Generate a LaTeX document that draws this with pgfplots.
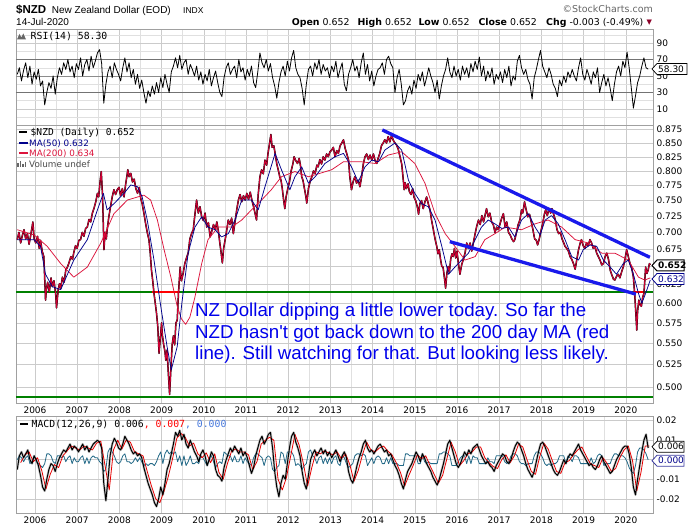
\documentclass[border=0pt]{standalone}
\usepackage{pgfplots}
\pgfplotsset{compat=1.18}
\usepackage{pgfplotstable}
\usepackage{fontspec}
\setmainfont{Liberation Sans}
\newfontfamily\dv{DejaVu Sans}
\newfontfamily\dvm{DejaVu Sans Mono}
\newfontfamily\annotfont{Liberation Sans}[Ligatures=TeXOff]
\definecolor{gridM}{RGB}{203,203,203}
\definecolor{gridm}{RGB}{224,224,224}
\definecolor{framec}{RGB}{160,160,160}
\definecolor{crim}{RGB}{204,0,51}
\definecolor{navyc}{RGB}{0,0,140}
\definecolor{ma200}{RGB}{220,20,60}
\definecolor{annot}{RGB}{0,0,235}
\definecolor{tline}{RGB}{25,25,235}
\definecolor{gline}{RGB}{0,128,0}
\definecolor{histc}{RGB}{35,105,135}
\definecolor{sigc}{RGB}{230,0,0}
\definecolor{zeroc}{RGB}{70,120,220}
\definecolor{tagblue}{RGB}{60,60,160}

\pgfplotstableread[row sep=\\]{t v\\
2005.58 0.689\\2005.62 0.700\\2005.66 0.684\\2005.70 0.695\\2005.74 0.704\\2005.78 0.690\\2005.82 0.698\\2005.86 0.682\\2005.90 0.696\\2005.95 0.716\\2005.98 0.690\\
2006.02 0.684\\2006.06 0.694\\2006.10 0.676\\2006.13 0.688\\2006.17 0.672\\2006.21 0.664\\2006.25 0.604\\2006.27 0.618\\2006.30 0.628\\2006.34 0.615\\2006.38 0.634\\2006.41 0.622\\2006.45 0.630\\2006.49 0.612\\2006.51 0.594\\2006.55 0.618\\2006.58 0.626\\2006.61 0.620\\2006.65 0.635\\2006.69 0.628\\2006.73 0.645\\2006.77 0.649\\2006.81 0.656\\2006.85 0.664\\2006.89 0.660\\2006.92 0.670\\2006.96 0.680\\
2007.00 0.676\\2007.04 0.688\\2007.08 0.689\\2007.12 0.700\\2007.16 0.694\\2007.20 0.706\\2007.24 0.708\\2007.28 0.720\\2007.32 0.716\\2007.36 0.730\\2007.40 0.738\\2007.44 0.748\\2007.48 0.762\\2007.51 0.756\\2007.54 0.780\\2007.57 0.799\\2007.60 0.760\\2007.635 0.674\\2007.66 0.700\\2007.69 0.690\\2007.71 0.704\\2007.75 0.724\\2007.79 0.740\\2007.83 0.756\\2007.87 0.768\\2007.91 0.760\\2007.95 0.768\\2007.99 0.772\\
2008.03 0.758\\2008.07 0.770\\2008.11 0.756\\2008.15 0.778\\2008.18 0.792\\2008.20 0.802\\2008.23 0.790\\2008.27 0.796\\2008.31 0.781\\2008.35 0.786\\2008.39 0.770\\2008.43 0.762\\2008.47 0.772\\2008.51 0.752\\2008.54 0.745\\2008.58 0.730\\2008.62 0.714\\2008.66 0.700\\2008.70 0.689\\2008.73 0.670\\2008.76 0.645\\2008.79 0.630\\2008.82 0.613\\2008.85 0.600\\2008.88 0.587\\2008.91 0.570\\2008.94 0.538\\2008.97 0.556\\
2009.00 0.575\\2009.02 0.559\\2009.05 0.548\\2009.08 0.540\\2009.10 0.530\\2009.13 0.542\\2009.16 0.515\\2009.19 0.492\\2009.22 0.520\\2009.25 0.548\\2009.28 0.559\\2009.31 0.548\\2009.34 0.575\\2009.37 0.578\\2009.40 0.613\\2009.44 0.649\\2009.47 0.630\\2009.51 0.640\\2009.55 0.654\\2009.59 0.662\\2009.63 0.669\\2009.67 0.690\\2009.71 0.698\\2009.75 0.704\\2009.79 0.728\\2009.83 0.751\\2009.87 0.730\\2009.91 0.740\\2009.95 0.724\\2009.99 0.718\\
2010.03 0.730\\2010.07 0.708\\2010.11 0.715\\2010.15 0.693\\2010.19 0.702\\2010.23 0.712\\2010.27 0.704\\2010.31 0.716\\2010.35 0.700\\2010.38 0.684\\2010.41 0.670\\2010.44 0.655\\2010.47 0.676\\2010.51 0.690\\2010.55 0.706\\2010.58 0.719\\2010.62 0.712\\2010.66 0.722\\2010.70 0.698\\2010.74 0.716\\2010.78 0.735\\2010.82 0.751\\2010.86 0.760\\2010.90 0.748\\2010.94 0.758\\2010.98 0.751\\
2011.02 0.762\\2011.06 0.752\\2011.10 0.764\\2011.14 0.751\\2011.18 0.740\\2011.22 0.728\\2011.25 0.719\\2011.29 0.760\\2011.33 0.790\\2011.37 0.802\\2011.41 0.795\\2011.45 0.819\\2011.49 0.810\\2011.52 0.830\\2011.56 0.850\\2011.59 0.866\\2011.62 0.842\\2011.66 0.845\\2011.69 0.831\\2011.73 0.812\\2011.77 0.800\\2011.80 0.790\\2011.83 0.784\\2011.86 0.770\\2011.89 0.752\\2011.92 0.737\\2011.95 0.756\\2011.99 0.770\\
2012.03 0.781\\2012.07 0.800\\2012.11 0.812\\2012.14 0.825\\2012.18 0.818\\2012.22 0.813\\2012.26 0.822\\2012.29 0.810\\2012.32 0.790\\2012.35 0.784\\2012.39 0.768\\2012.42 0.756\\2012.44 0.746\\2012.48 0.770\\2012.52 0.782\\2012.56 0.790\\2012.60 0.800\\2012.64 0.796\\2012.68 0.810\\2012.71 0.807\\2012.75 0.820\\2012.79 0.812\\2012.83 0.825\\2012.87 0.819\\2012.91 0.830\\2012.95 0.825\\2012.99 0.834\\
2013.03 0.837\\2013.07 0.842\\2013.11 0.825\\2013.15 0.836\\2013.19 0.831\\2013.23 0.845\\2013.27 0.850\\2013.31 0.856\\2013.35 0.840\\2013.39 0.830\\2013.43 0.819\\2013.46 0.790\\2013.50 0.768\\2013.54 0.782\\2013.58 0.790\\2013.62 0.779\\2013.66 0.784\\2013.70 0.773\\2013.74 0.790\\2013.78 0.812\\2013.82 0.825\\2013.86 0.830\\2013.90 0.820\\2013.94 0.828\\2013.98 0.819\\
2014.02 0.830\\2014.06 0.818\\2014.10 0.813\\2014.13 0.822\\2014.17 0.831\\2014.21 0.845\\2014.25 0.850\\2014.29 0.856\\2014.33 0.850\\2014.37 0.862\\2014.41 0.852\\2014.45 0.864\\2014.49 0.855\\2014.53 0.850\\2014.57 0.846\\2014.61 0.838\\2014.65 0.825\\2014.69 0.812\\2014.72 0.790\\2014.75 0.768\\2014.77 0.780\\2014.80 0.770\\2014.84 0.778\\2014.87 0.765\\2014.91 0.760\\2014.95 0.770\\2014.98 0.756\\
2015.02 0.750\\2015.06 0.740\\2015.09 0.728\\2015.12 0.745\\2015.16 0.750\\2015.20 0.737\\2015.24 0.748\\2015.28 0.756\\2015.32 0.745\\2015.36 0.735\\2015.40 0.718\\2015.44 0.704\\2015.48 0.690\\2015.52 0.679\\2015.55 0.668\\2015.58 0.674\\2015.61 0.660\\2015.64 0.650\\2015.67 0.649\\2015.70 0.635\\2015.73 0.620\\2015.76 0.640\\2015.79 0.650\\2015.82 0.642\\2015.85 0.660\\2015.88 0.668\\2015.91 0.664\\2015.94 0.676\\2015.97 0.662\\
2016.00 0.672\\2016.03 0.656\\2016.07 0.639\\2016.11 0.652\\2016.15 0.660\\2016.19 0.669\\2016.23 0.684\\2016.27 0.676\\2016.31 0.684\\2016.35 0.672\\2016.39 0.685\\2016.43 0.698\\2016.47 0.710\\2016.51 0.719\\2016.55 0.712\\2016.59 0.726\\2016.63 0.716\\2016.67 0.728\\2016.70 0.737\\2016.74 0.724\\2016.78 0.730\\2016.82 0.716\\2016.86 0.712\\2016.90 0.700\\2016.94 0.708\\2016.98 0.704\\
2017.02 0.713\\2017.06 0.722\\2017.10 0.729\\2017.14 0.708\\2017.18 0.716\\2017.22 0.700\\2017.26 0.696\\2017.30 0.690\\2017.34 0.686\\2017.37 0.689\\2017.41 0.700\\2017.45 0.712\\2017.49 0.719\\2017.53 0.735\\2017.56 0.730\\2017.60 0.748\\2017.64 0.735\\2017.68 0.724\\2017.72 0.728\\2017.76 0.716\\2017.80 0.704\\2017.84 0.690\\2017.88 0.688\\2017.91 0.681\\2017.95 0.690\\2017.99 0.702\\
2018.03 0.713\\2018.07 0.728\\2018.10 0.735\\2018.14 0.726\\2018.18 0.737\\2018.22 0.730\\2018.25 0.737\\2018.29 0.728\\2018.33 0.719\\2018.37 0.704\\2018.41 0.698\\2018.45 0.700\\2018.49 0.690\\2018.53 0.684\\2018.56 0.679\\2018.60 0.676\\2018.64 0.672\\2018.68 0.664\\2018.72 0.660\\2018.76 0.654\\2018.80 0.646\\2018.84 0.660\\2018.88 0.674\\2018.92 0.684\\2018.95 0.689\\2018.99 0.680\\
2019.03 0.676\\2019.07 0.684\\2019.11 0.680\\2019.15 0.689\\2019.19 0.684\\2019.23 0.676\\2019.27 0.679\\2019.31 0.669\\2019.35 0.664\\2019.39 0.659\\2019.43 0.652\\2019.47 0.654\\2019.51 0.664\\2019.55 0.669\\2019.59 0.660\\2019.63 0.645\\2019.67 0.638\\2019.71 0.632\\2019.74 0.631\\2019.78 0.636\\2019.82 0.639\\2019.86 0.634\\2019.90 0.642\\2019.94 0.649\\2019.98 0.660\\
2020.02 0.674\\2020.06 0.664\\2020.10 0.654\\2020.14 0.648\\2020.18 0.635\\2020.20 0.620\\2020.22 0.604\\2020.24 0.585\\2020.26 0.566\\2020.28 0.590\\2020.31 0.604\\2020.34 0.598\\2020.37 0.596\\2020.40 0.608\\2020.43 0.613\\2020.45 0.630\\2020.47 0.649\\2020.50 0.640\\2020.53 0.645\\2020.56 0.654\\2020.58 0.652\\
}\price

\pgfplotstableread[row sep=\\]{r\\
52\\60\\44\\57\\66\\48\\62\\40\\55\\
46\\58\\38\\44\\15\\30\\42\\35\\50\\28\\48\\60\\52\\66\\58\\70\\55\\62\\48\\65\\
58\\72\\50\\64\\70\\56\\74\\60\\68\\78\\82\\65\\17\\40\\55\\62\\48\\66\\58\\52\\
44\\60\\72\\55\\66\\48\\58\\40\\52\\35\\45\\30\\17\\32\\25\\38\\28\\42\\30\\48\\
36\\52\\40\\30\\55\\62\\72\\60\\75\\58\\66\\70\\52\\64\\58\\50\\62\\45\\55\\40\\
52\\44\\58\\38\\48\\56\\42\\30\\25\\48\\60\\66\\52\\58\\62\\48\\70\\55\\60\\45\\
58\\50\\62\\42\\36\\55\\78\\66\\60\\70\\56\\65\\48\\38\\23\\42\\55\\62\\50\\68\\
56\\72\\81\\60\\52\\48\\35\\15\\40\\58\\62\\50\\66\\58\\70\\52\\64\\56\\60\\48\\
62\\55\\68\\48\\58\\66\\40\\32\\52\\60\\70\\56\\62\\48\\66\\78\\52\\64\\44\\56\\
38\\50\\58\\60\\66\\52\\70\\74\\65\\60\\30\\48\\58\\40\\15\\20\\32\\38\\28\\45\\
35\\52\\44\\55\\38\\48\\60\\50\\42\\30\\45\\22\\38\\50\\58\\72\\55\\48\\62\\50\\
58\\45\\62\\52\\60\\48\\65\\55\\68\\58\\73\\50\\62\\44\\56\\48\\60\\40\\52\\46\\
55\\42\\58\\48\\62\\38\\50\\45\\68\\75\\60\\52\\58\\46\\40\\22\\48\\58\\70\\81\\
62\\55\\48\\60\\52\\40\\35\\25\\45\\38\\50\\42\\55\\48\\58\\50\\44\\60\\72\\52\\
45\\58\\50\\40\\55\\48\\60\\30\\42\\52\\38\\48\\35\\20\\40\\55\\62\\50\\68\\60\\
79\\60\\36\\11\\26\\42\\50\\62\\72\\60\\58.3\\
}\rsi

\pgfplotstableread[row sep=\\]{m\\
-5\\2\\4\\1\\3\\5\\0\\-2\\2\\
0\\-3\\-8\\-14\\-16\\-10\\-5\\-2\\-3\\-6\\-2\\1\\3\\5\\4\\6\\8\\5\\7\\6\\
4\\6\\8\\5\\7\\4\\6\\8\\9\\10\\9\\6\\-12\\-21\\-10\\2\\8\\11\\9\\6\\
5\\8\\12\\10\\8\\5\\3\\4\\2\\3\\1\\-4\\-8\\-12\\-15\\-18\\-22\\-24\\-20\\-14\\
-18\\-12\\-5\\-2\\3\\8\\14\\12\\15\\10\\13\\8\\6\\10\\7\\4\\2\\-1\\3\\5\\
2\\-3\\0\\4\\2\\-5\\-8\\-9\\-11\\-4\\0\\3\\6\\4\\7\\5\\3\\6\\2\\4\\
1\\-3\\-7\\-4\\2\\6\\10\\12\\8\\10\\13\\14\\6\\-6\\-14\\-19\\-12\\-8\\-10\\-2\\
6\\12\\14\\9\\6\\2\\-6\\-12\\-15\\-8\\0\\3\\5\\2\\4\\6\\3\\5\\2\\4\\
1\\3\\5\\2\\-1\\2\\4\\1\\-6\\-10\\-12\\-8\\-3\\1\\4\\8\\10\\6\\4\\5\\
3\\5\\7\\8\\6\\4\\5\\2\\3\\0\\-3\\-5\\-8\\-12\\-15\\-10\\-6\\-4\\-2\\1\\
4\\2\\-1\\3\\1\\-2\\-4\\-6\\-9\\-11\\-13\\-10\\-6\\-2\\3\\8\\10\\6\\2\\-2\\
-4\\-2\\1\\4\\2\\5\\3\\6\\7\\8\\5\\2\\0\\-2\\-1\\-3\\-4\\-6\\-3\\-1\\
1\\3\\2\\-1\\-2\\0\\4\\7\\9\\8\\5\\2\\-2\\-5\\-7\\-9\\-6\\-1\\4\\8\\
9\\7\\4\\1\\-2\\-5\\-7\\-8\\-6\\-3\\0\\-2\\1\\3\\2\\4\\6\\8\\5\\3\\
1\\-1\\-3\\-2\\-4\\-5\\-3\\0\\2\\-1\\-3\\-5\\-7\\-6\\-3\\0\\2\\4\\6\\7\\
7\\3\\-4\\-14\\-18\\-10\\-3\\4\\10\\13\\6\\
}\macd

\pgfplotstableread[row sep=\\]{h\\
0\\2\\1\\-1\\1\\2\\-2\\-1\\2\\
-1\\-2\\-3\\-4\\-2\\3\\3\\2\\-1\\-2\\2\\2\\1\\2\\-1\\1\\2\\-2\\1\\-1\\
-1\\1\\2\\-2\\1\\-2\\1\\2\\1\\1\\-1\\-2\\-6\\-5\\4\\6\\4\\2\\-1\\-2\\
-1\\2\\3\\-1\\-1\\-2\\-1\\1\\-1\\1\\-1\\-3\\-2\\-3\\-2\\-2\\-3\\-1\\2\\4\\
-2\\3\\5\\3\\4\\3\\4\\-1\\2\\-3\\2\\-3\\-1\\2\\-2\\-2\\-1\\-2\\2\\1\\
-1\\-3\\1\\2\\-1\\-4\\-2\\-1\\-2\\4\\3\\2\\2\\-1\\2\\-1\\-1\\2\\-2\\1\\
-1\\-2\\-3\\1\\3\\3\\2\\1\\-3\\1\\2\\1\\-5\\-6\\-4\\-3\\4\\3\\-2\\4\\
4\\4\\2\\-3\\-2\\-3\\-5\\-3\\-2\\4\\5\\2\\1\\-2\\1\\2\\-2\\1\\-2\\1\\
-2\\1\\2\\-2\\-3\\2\\1\\-2\\-4\\-3\\-2\\2\\3\\3\\2\\3\\2\\-3\\-1\\1\\
-2\\1\\2\\1\\-2\\-2\\1\\-2\\1\\-2\\-2\\-2\\-3\\-3\\-3\\3\\3\\2\\2\\2\\
2\\-2\\-2\\3\\-1\\-2\\-1\\-2\\-2\\-2\\-2\\3\\3\\4\\4\\3\\2\\-3\\-3\\-3\\
-1\\1\\2\\2\\-2\\2\\-2\\2\\1\\1\\-2\\-2\\-2\\-2\\1\\-1\\-1\\-2\\2\\2\\
2\\2\\-1\\-2\\-1\\2\\3\\3\\2\\-1\\-2\\-2\\-3\\-2\\-2\\-2\\2\\4\\4\\3\\
1\\-2\\-3\\-2\\-3\\-2\\-2\\-1\\2\\2\\2\\-2\\2\\1\\-1\\2\\2\\1\\-2\\-2\\
-2\\-2\\-2\\1\\-2\\-1\\2\\3\\2\\-3\\-2\\-2\\-2\\1\\3\\3\\2\\2\\2\\1\\
-1\\-4\\-6\\-7\\-3\\4\\6\\6\\5\\3\\0\\
}\hist

\pgfplotstableread[row sep=\\]{s\\
-1.5\\2.5\\4\\-1\\1\\-5.5\\-15\\-7.5\\-2.5\\-4\\2\\4.5\\7\\6\\5\\7\\6\\5\\8.5\\9.5\\
-3\\-15.5\\5\\10\\5.5\\10\\9\\4\\3\\2\\-6\\-13.5\\-20\\-22\\-16\\-8.5\\0.5\\11\\13.5\\11.5\\
7\\8.5\\3\\1\\3.5\\-1.5\\3\\-6.5\\-10\\-2\\4.5\\5.5\\4\\4\\2.5\\-5\\-1\\8\\10\\11.5\\
10\\-10\\-15.5\\-9\\2\\13\\7.5\\-2\\-13.5\\-4\\4\\3\\4.5\\3.5\\2.5\\4\\0.5\\3\\-2.5\\-11\\
-5.5\\2.5\\9\\5\\4\\6\\7\\4.5\\2.5\\-1.5\\-6.5\\-13.5\\-8\\-3\\2.5\\0.5\\2\\-3\\-7.5\\-12\\
-8\\0.5\\9\\4\\-3\\-0.5\\3\\4\\6.5\\6.5\\1\\-1.5\\-3.5\\-4.5\\0\\2.5\\-1.5\\2\\8\\6.5\\
0\\-6\\-7.5\\1.5\\8.5\\5.5\\-0.5\\-6\\-7\\-1.5\\-0.5\\2.5\\5\\6.5\\2\\-2\\-3\\-4\\1\\-2\\
-6\\-4.5\\1\\5\\7\\-0.5\\-16\\-6.5\\7\\7\\
}\signal

\pgfplotsset{
  base/.style={scale only axis, width=637pt, anchor=south west,
    xmin=2005.55, xmax=2020.645,
    axis line style={draw=framec},
    xtick={2006,2007,2008,2009,2010,2011,2012,2013,2014,2015,2016,2017,2018,2019,2020},
    xticklabels={2006,2007,2008,2009,2010,2011,2012,2013,2014,2015,2016,2017,2018,2019,2020},
    minor x tick num=1,
    grid=both,
    major grid style={draw=gridM, line width=0.5pt},
    minor grid style={draw=gridm, line width=0.5pt},
    tick style={draw=none},
    yticklabel pos=right,
    ticklabel style={font=\dv\fontsize{9}{10}\selectfont, text=black},
    /pgf/number format/assume math mode=true,
  }
}

\begin{document}
\begin{tikzpicture}
\fill[white] (0pt,0pt) rectangle (700pt,530pt);
\path[use as bounding box] (0pt,0pt) rectangle (700pt,530pt);

% ---------------- RSI panel
\begin{axis}[base, at={(16pt,405pt)}, height=96pt, ymin=-9.4, ymax=107,
  ytick={10,30,50,70,90}, yticklabels={10,30,50,70,90},
  minor ytick={0,20,40,60,80,100}, xticklabels={}]
\addplot[draw=black!55, line width=0.7pt] coordinates {(2005.55,70) (2020.645,70)};
\addplot[draw=black!45, line width=0.6pt] coordinates {(2005.55,50) (2020.645,50)};
\addplot[draw=black!55, line width=0.7pt] coordinates {(2005.55,30) (2020.645,30)};
\addplot[black, line width=0.8pt, line join=round] table[x expr=2005.58+0.05*\coordindex, y=r]{\rsi};
\end{axis}

% ---------------- Price panel (logarithmic price scale)
\begin{axis}[base, at={(16pt,127pt)}, height=278pt,
  y coord trafo/.code={\pgfmathparse{ln(#1)}},
  y coord inv trafo/.code={\pgfmathparse{exp(#1)}},
  ymin=0.483, ymax=0.884,
  ytick={0.5,0.525,0.55,0.575,0.6,0.625,0.65,0.675,0.7,0.725,0.75,0.775,0.8,0.825,0.85,0.875},
  yticklabels={0.500,0.525,0.550,0.575,0.600,0.625,{},0.675,0.700,0.725,0.750,0.775,0.800,0.825,0.850,0.875},
  minor y tick num=0]
\addplot[gline, line width=2.4pt] coordinates {(2005.55,0.615) (2020.645,0.615)};
\addplot[red, line width=2.4pt] coordinates {(2008.77,0.615) (2009.44,0.615)};
\addplot[red, line width=2.4pt] coordinates {(2020.17,0.615) (2020.41,0.615)};
\addplot[gline, line width=2.4pt] coordinates {(2005.55,0.489) (2020.645,0.489)};
\addplot[black, line width=1.5pt, line join=round] table[x=t, y=v]{\price};
\addplot[crim, line width=1.0pt, line join=round] table[x=t, y=v]{\price};
\addplot[ma200, line width=0.75pt, line join=round] coordinates {
(2005.58,0.704)(2005.98,0.696)(2006.29,0.679)(2006.61,0.654)(2006.92,0.635)(2007.24,0.649)(2007.56,0.684)(2007.87,0.729)(2008.19,0.751)(2008.58,0.759)(2008.74,0.751)(2008.90,0.719)(2009.06,0.674)(2009.22,0.635)(2009.37,0.596)(2009.47,0.580)(2009.57,0.573)(2009.67,0.582)(2009.79,0.608)(2009.95,0.654)(2010.10,0.689)(2010.34,0.708)(2010.66,0.708)(2010.90,0.719)(2011.13,0.735)(2011.37,0.751)(2011.60,0.768)(2011.84,0.790)(2012.16,0.799)(2012.48,0.790)(2012.71,0.795)(2013.03,0.802)(2013.31,0.816)(2013.74,0.816)(2014.06,0.813)(2014.37,0.828)(2014.69,0.834)(2015.00,0.813)(2015.24,0.779)(2015.48,0.729)(2015.72,0.698)(2015.95,0.679)(2016.19,0.659)(2016.43,0.664)(2016.66,0.689)(2016.90,0.698)(2017.14,0.708)(2017.53,0.704)(2017.85,0.713)(2018.16,0.719)(2018.48,0.708)(2018.80,0.689)(2019.11,0.684)(2019.43,0.669)(2019.74,0.669)(2020.06,0.659)(2020.30,0.635)(2020.45,0.631)(2020.58,0.634)};
\addplot[navyc, line width=0.75pt, line join=round] coordinates {
(2005.58,0.689)(2005.98,0.689)(2006.13,0.679)(2006.25,0.639)(2006.41,0.622)(2006.61,0.618)(2006.77,0.639)(2006.92,0.659)(2007.08,0.674)(2007.24,0.689)(2007.48,0.735)(2007.62,0.762)(2007.71,0.735)(2007.87,0.745)(2008.11,0.762)(2008.27,0.776)(2008.43,0.773)(2008.54,0.756)(2008.66,0.719)(2008.82,0.659)(2008.98,0.596)(2009.13,0.546)(2009.23,0.519)(2009.37,0.546)(2009.48,0.600)(2009.63,0.669)(2009.79,0.708)(2009.95,0.724)(2010.10,0.708)(2010.27,0.704)(2010.42,0.693)(2010.58,0.698)(2010.74,0.719)(2010.90,0.751)(2011.13,0.751)(2011.29,0.735)(2011.45,0.773)(2011.69,0.831)(2011.84,0.802)(2012.04,0.768)(2012.16,0.790)(2012.32,0.807)(2012.48,0.779)(2012.64,0.790)(2012.87,0.813)(2013.11,0.825)(2013.31,0.831)(2013.50,0.807)(2013.66,0.781)(2013.82,0.807)(2013.98,0.819)(2014.14,0.816)(2014.29,0.837)(2014.53,0.850)(2014.69,0.837)(2014.85,0.784)(2015.00,0.762)(2015.16,0.745)(2015.32,0.740)(2015.48,0.719)(2015.64,0.679)(2015.80,0.639)(2015.95,0.649)(2016.11,0.659)(2016.27,0.669)(2016.43,0.689)(2016.58,0.708)(2016.74,0.719)(2016.90,0.713)(2017.06,0.706)(2017.22,0.708)(2017.37,0.693)(2017.53,0.719)(2017.69,0.729)(2017.85,0.708)(2017.97,0.696)(2018.09,0.719)(2018.24,0.726)(2018.40,0.713)(2018.56,0.689)(2018.72,0.664)(2018.88,0.659)(2018.99,0.674)(2019.15,0.681)(2019.31,0.679)(2019.47,0.659)(2019.63,0.649)(2019.78,0.639)(2019.94,0.654)(2020.06,0.659)(2020.18,0.639)(2020.30,0.613)(2020.38,0.600)(2020.47,0.613)(2020.58,0.631)};
\addplot[tline, line width=3.3pt] coordinates {(2014.23,0.8745) (2020.57,0.663)};
\addplot[tline, line width=3.3pt] coordinates {(2015.83,0.686) (2020.24,0.612)};
\end{axis}

% ---------------- MACD panel
\begin{axis}[base, at={(16pt,17pt)}, height=97pt, ymin=-27.3, ymax=22.4,
  ytick={-20,-10,0,10,20}, yticklabels={-0.02,-0.01,{},0.01,0.02},
  minor y tick num=0]
\addplot[black!22, line width=2.4pt, line join=round] table[x expr=2005.58+0.05*\coordindex, y=m]{\macd};
\addplot[histc, line width=0.8pt, line join=round] table[x expr=2005.58+0.05*\coordindex, y=h]{\hist};
\addplot[sigc, line width=0.8pt, line join=round] table[x expr=2005.66+0.1*\coordindex, y=s]{\signal};
\addplot[black, line width=1pt, line join=round] table[x expr=2005.58+0.05*\coordindex, y=m]{\macd};
\end{axis}

\begin{scope}[x=1pt,y=1pt]
% ---------------- header
\node[anchor=base west, inner sep=0] at (16,516.5) {\bfseries\fontsize{11.5}{13}\selectfont \$NZD};
\node[anchor=base west, inner sep=0] at (51.7,516.5) {\fontsize{10}{12}\selectfont New Zealand Dollar (EOD)};
\node[anchor=base west, inner sep=0] at (183,516.5) {\fontsize{8.5}{10}\selectfont INDX};
\node[anchor=base west, inner sep=0] at (16,504.5) {\fontsize{10}{12}\selectfont 14-Jul-2020};
\node[anchor=base east, inner sep=0, text=black!60] at (653,517) {\dv\fontsize{9.5}{11}\selectfont \textcopyright StockCharts.com};
\node[anchor=base west, inner sep=0] at (291.7,504.5) {\dv\fontsize{9.4}{11}\selectfont\textbf{Open} 0.652};
\node[anchor=base west, inner sep=0] at (357.3,504.5) {\dv\fontsize{9.4}{11}\selectfont\textbf{High} 0.652};
\node[anchor=base west, inner sep=0] at (418.3,504.5) {\dv\fontsize{9.4}{11}\selectfont\textbf{Low} 0.652};
\node[anchor=base west, inner sep=0] at (478.3,504.5) {\dv\fontsize{9.4}{11}\selectfont\textbf{Close} 0.652};
\node[anchor=base west, inner sep=0] at (546,504.5) {\dv\fontsize{9.4}{11}\selectfont\textbf{Chg} -0.003 (-0.49\%)};
\node[anchor=base west, inner sep=0, text={rgb,255:red,140;green,0;blue,40}] at (646.5,505.5) {\dv\fontsize{7}{8}\selectfont ▼};

% ---------------- panel labels
\fill[black!60] (17,490.5) -- (19.5,496) -- (21.3,492.5) -- (23.3,496.5) -- (26,490.5) -- cycle;
\node[anchor=base west, inner sep=0] at (30.5,490.5) {\dvm\fontsize{9.8}{11}\selectfont RSI(14) 58.30};

\draw[black, line width=2pt] (19,397.5) -- (27,397.5);
\node[anchor=base west, inner sep=0] at (30.5,394) {\dvm\fontsize{9.6}{11}\selectfont \$NZD (Daily) 0.652};
\draw[navyc, line width=2pt] (19,387) -- (27.5,387);
\node[anchor=base west, inner sep=0, text=navyc] at (29,383.5) {\dv\fontsize{8.8}{10}\selectfont MA(50) 0.632};
\draw[ma200, line width=2pt] (19,376.5) -- (27.5,376.5);
\node[anchor=base west, inner sep=0, text=ma200] at (29,373) {\dv\fontsize{8.8}{10}\selectfont MA(200) 0.634};
\fill[black!60] (17,362.5) rectangle (18.6,366.5);
\fill[black!60] (19.6,362.5) rectangle (21.2,368.5);
\fill[black!60] (22.2,362.5) rectangle (23.8,365.5);
\fill[black!60] (24.8,362.5) rectangle (26.4,367.5);
\node[anchor=base west, inner sep=0, text=black!70] at (29,362.5) {\dv\fontsize{8.8}{10}\selectfont Volume undef};

\draw[black, line width=2pt] (20,106) -- (28,106);
\node[anchor=base west, inner sep=0] at (31.5,102.3) {\dvm\fontsize{9.8}{11}\selectfont MACD(12,26,9) 0.006\textcolor{red}{, 0.007}\textcolor{zeroc}{, 0.000}};

% ---------------- annotation
\node[anchor=base west, inner sep=0, text=annot] at (195,213.3) {\annotfont\fontsize{18.7}{21}\selectfont NZ Dollar dipping a little lower today. So far the};
\node[anchor=base west, inner sep=0, text=annot] at (195,191.8) {\annotfont\fontsize{18.7}{21}\selectfont NZD hasn't got back down to the 200 day MA (red};
\node[anchor=base west, inner sep=0, text=annot] at (195,170.3) {\annotfont\fontsize{18.7}{21}\selectfont line). Still watching for that. But looking less likely.};

% ---------------- value tags
\draw[black, fill=white, line width=0.7pt] (652,461) -- (657,466.5) -- (687,466.5) -- (687,455.5) -- (657,455.5) -- cycle;
\node[anchor=west, inner sep=0] at (658,461) {\dv\fontsize{9}{10}\selectfont 58.30};
\draw[black, fill=white, line width=1pt] (652,264.5) -- (657,270) -- (684,270) -- (684,259) -- (657,259) -- cycle;
\node[anchor=west, inner sep=0] at (657.8,264.5) {\dv\bfseries\fontsize{9}{10}\selectfont 0.652};
\draw[navyc, fill=white, line width=0.8pt] (652,251) -- (657,256.5) -- (684,256.5) -- (684,245.5) -- (657,245.5) -- cycle;
\node[anchor=west, inner sep=0, text=navyc] at (658,251) {\dv\fontsize{9}{10}\selectfont 0.632};
\draw[black, fill=white, line width=0.7pt] (652,83.3) -- (657,88.8) -- (684,88.8) -- (684,77.8) -- (657,77.8) -- cycle;
\node[anchor=west, inner sep=0] at (658,83.3) {\dv\fontsize{9}{10}\selectfont 0.006};
\draw[tagblue, fill=white, line width=0.8pt] (652,69.3) -- (657,74.8) -- (684,74.8) -- (684,63.8) -- (657,63.8) -- cycle;
\node[anchor=west, inner sep=0, text=navyc] at (658,69.3) {\dv\fontsize{9}{10}\selectfont 0.000};
\end{scope}
\end{tikzpicture}
\end{document}
